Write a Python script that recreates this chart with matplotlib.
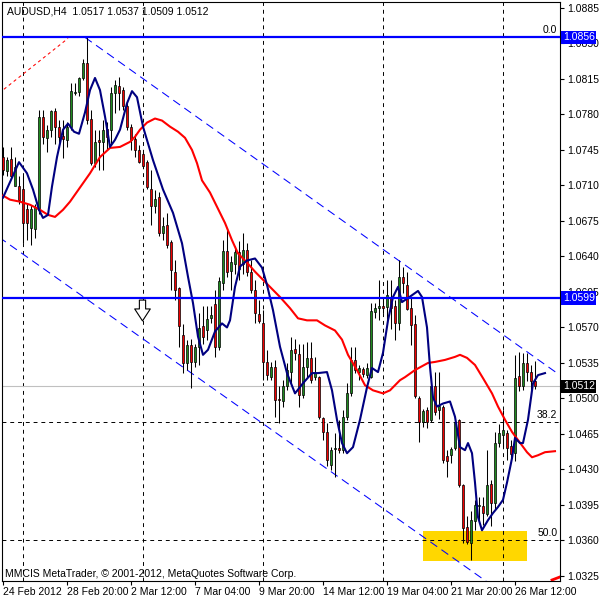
import numpy as np
import matplotlib
matplotlib.use("Agg")
import matplotlib.pyplot as plt
import matplotlib.transforms as mtransforms
from matplotlib.patches import Rectangle
from matplotlib.path import Path

# AUDUSD H4 candles, bar 0 = 24 Feb 2012
opens = [1.0738, 1.0724, 1.0736, 1.0709, 1.0709, 1.0707, 1.0687, 1.0668, 1.0667, 1.0686,
         1.0778, 1.0757, 1.0765, 1.0783, 1.0768, 1.0759, 1.0755, 1.0768, 1.0801, 1.0802,
         1.0816, 1.0831, 1.0776, 1.0732, 1.0755, 1.0753, 1.0766, 1.0765, 1.0801, 1.0808,
         1.0804, 1.0788, 1.0768, 1.0756, 1.0745, 1.0741, 1.0733, 1.0707, 1.0690, 1.0699,
         1.0663, 1.0671, 1.0654, 1.0625, 1.0609, 1.0563, 1.0535, 1.0553, 1.0536, 1.0551,
         1.0571, 1.0567, 1.0579, 1.0593, 1.0551, 1.0614, 1.0645, 1.0626, 1.0633, 1.0644,
         1.0633, 1.0646, 1.0625, 1.0607, 1.0583, 1.0574, 1.0536, 1.0521, 1.0531, 1.0499,
         1.0497, 1.0512, 1.0526, 1.0549, 1.0544, 1.0503, 1.0531, 1.0540, 1.0521, 1.0521,
         1.0481, 1.0467, 1.0434, 1.0450, 1.0451, 1.0449, 1.0482, 1.0505, 1.0538, 1.0526,
         1.0529, 1.0523, 1.0521, 1.0585, 1.0589, 1.0591, 1.0590, 1.0600, 1.0591, 1.0574,
         1.0620, 1.0612, 1.0589, 1.0573, 1.0500, 1.0477, 1.0489, 1.0479, 1.0512, 1.0489,
         1.0492, 1.0443, 1.0444, 1.0451, 1.0479, 1.0415, 1.0373, 1.0357, 1.0379, 1.0394,
         1.0394, 1.0386, 1.0416, 1.0397, 1.0456, 1.0464, 1.0466, 1.0453, 1.0446, 1.0522,
         1.0512, 1.0535, 1.0526, 1.0517]
highs = [1.0748, 1.0738, 1.0748, 1.0738, 1.0719, 1.0719, 1.0692, 1.0691, 1.0692, 1.0784,
         1.0784, 1.0770, 1.0784, 1.0786, 1.0775, 1.0775, 1.0773, 1.0811, 1.0811, 1.0817,
         1.0835, 1.0856, 1.0784, 1.0765, 1.0765, 1.0775, 1.0773, 1.0807, 1.0814, 1.0817,
         1.0807, 1.0791, 1.0771, 1.0761, 1.0750, 1.0743, 1.0735, 1.0725, 1.0706, 1.0704,
         1.0679, 1.0683, 1.0656, 1.0637, 1.0610, 1.0573, 1.0558, 1.0559, 1.0554, 1.0584,
         1.0591, 1.0591, 1.0591, 1.0607, 1.0620, 1.0656, 1.0668, 1.0640, 1.0650, 1.0655,
         1.0663, 1.0653, 1.0637, 1.0617, 1.0597, 1.0587, 1.0548, 1.0536, 1.0538, 1.0512,
         1.0518, 1.0535, 1.0561, 1.0559, 1.0554, 1.0554, 1.0556, 1.0556, 1.0541, 1.0522,
         1.0482, 1.0476, 1.0452, 1.0466, 1.0479, 1.0489, 1.0515, 1.0551, 1.0551, 1.0533,
         1.0531, 1.0535, 1.0594, 1.0594, 1.0617, 1.0600, 1.0617, 1.0617, 1.0597, 1.0637,
         1.0630, 1.0625, 1.0600, 1.0582, 1.0502, 1.0490, 1.0492, 1.0522, 1.0526, 1.0526,
         1.0494, 1.0449, 1.0452, 1.0480, 1.0480, 1.0416, 1.0384, 1.0389, 1.0400, 1.0403,
         1.0403, 1.0449, 1.0420, 1.0467, 1.0475, 1.0489, 1.0469, 1.0459, 1.0543, 1.0546,
         1.0545, 1.0545, 1.0533, 1.0537]
lows = [1.0720, 1.0719, 1.0717, 1.0709, 1.0692, 1.0653, 1.0656, 1.0651, 1.0658, 1.0682,
        1.0751, 1.0743, 1.0758, 1.0751, 1.0748, 1.0737, 1.0748, 1.0765, 1.0799, 1.0798,
        1.0814, 1.0771, 1.0730, 1.0728, 1.0725, 1.0725, 1.0745, 1.0750, 1.0781, 1.0784,
        1.0784, 1.0765, 1.0745, 1.0738, 1.0732, 1.0727, 1.0707, 1.0671, 1.0683, 1.0660,
        1.0656, 1.0648, 1.0607, 1.0597, 1.0551, 1.0525, 1.0528, 1.0510, 1.0531, 1.0533,
        1.0554, 1.0558, 1.0574, 1.0541, 1.0548, 1.0607, 1.0620, 1.0607, 1.0623, 1.0617,
        1.0623, 1.0621, 1.0604, 1.0574, 1.0574, 1.0518, 1.0518, 1.0518, 1.0482, 1.0476,
        1.0492, 1.0508, 1.0515, 1.0538, 1.0492, 1.0500, 1.0521, 1.0515, 1.0518, 1.0480,
        1.0459, 1.0433, 1.0429, 1.0423, 1.0446, 1.0446, 1.0479, 1.0502, 1.0525, 1.0518,
        1.0521, 1.0520, 1.0520, 1.0579, 1.0577, 1.0584, 1.0577, 1.0568, 1.0558, 1.0567,
        1.0604, 1.0587, 1.0553, 1.0500, 1.0457, 1.0472, 1.0471, 1.0477, 1.0484, 1.0480,
        1.0436, 1.0423, 1.0436, 1.0449, 1.0413, 1.0357, 1.0356, 1.0341, 1.0370, 1.0380,
        1.0375, 1.0384, 1.0374, 1.0390, 1.0452, 1.0452, 1.0439, 1.0439, 1.0438, 1.0507,
        1.0508, 1.0517, 1.0503, 1.0509]
closes = [1.0725, 1.0735, 1.0719, 1.0728, 1.0696, 1.0673, 1.0673, 1.0687, 1.0689, 1.0778,
          1.0758, 1.0765, 1.0783, 1.0768, 1.0758, 1.0756, 1.0768, 1.0803, 1.0802, 1.0816,
          1.0831, 1.0775, 1.0732, 1.0753, 1.0753, 1.0765, 1.0758, 1.0801, 1.0809, 1.0801,
          1.0788, 1.0768, 1.0755, 1.0745, 1.0733, 1.0729, 1.0708, 1.0690, 1.0697, 1.0663,
          1.0670, 1.0651, 1.0627, 1.0607, 1.0571, 1.0535, 1.0553, 1.0536, 1.0551, 1.0569,
          1.0561, 1.0578, 1.0582, 1.0551, 1.0616, 1.0645, 1.0625, 1.0635, 1.0644, 1.0628,
          1.0646, 1.0625, 1.0607, 1.0584, 1.0576, 1.0536, 1.0523, 1.0531, 1.0498, 1.0498,
          1.0512, 1.0528, 1.0548, 1.0545, 1.0503, 1.0531, 1.0540, 1.0518, 1.0525, 1.0482,
          1.0467, 1.0439, 1.0449, 1.0451, 1.0449, 1.0482, 1.0505, 1.0538, 1.0528, 1.0530,
          1.0524, 1.0530, 1.0586, 1.0589, 1.0591, 1.0589, 1.0602, 1.0589, 1.0574, 1.0620,
          1.0614, 1.0588, 1.0572, 1.0502, 1.0477, 1.0488, 1.0477, 1.0512, 1.0487, 1.0493,
          1.0439, 1.0438, 1.0450, 1.0477, 1.0415, 1.0372, 1.0358, 1.0380, 1.0395, 1.0395,
          1.0387, 1.0415, 1.0397, 1.0456, 1.0466, 1.0469, 1.0451, 1.0445, 1.0520, 1.0512,
          1.0535, 1.0526, 1.0517, 1.0512]

# moving averages (bar index, price)
fast_ma_x = [0, 4, 6, 7.5, 9, 10, 11.25, 12.25, 13.5, 15, 16.25, 17.75, 19, 20.5, 21.75, 23,
             24.25, 25.5, 26.75, 28, 29.25, 31, 32.25, 33.5, 35, 37.5, 40, 42.5, 44.75, 46.25,
             47.5, 48.75, 50, 51.25, 53, 54.75, 56, 56.75, 58, 59.25, 61, 63, 64.75, 66, 67.5,
             69.25, 71, 73, 75, 77.25, 78.75, 81, 82.25, 83.5, 84.75, 86, 87.5, 89.25, 91,
             92.25, 93.75, 95, 96.25, 97.5, 98.75, 99.75, 101.25, 103.75, 104.75, 106, 106.75,
             107.5, 108.5, 110, 111.75, 113, 114.25, 115.5, 116.25, 117.25, 118, 118.75, 119.75,
             121.25, 122.5, 123.75, 125, 126, 127.25, 128, 129.25, 130, 131.25, 132.5, 133.75,
             135.5]
fast_ma_y = [1.0698, 1.0733, 1.0722, 1.0706, 1.0686, 1.0678, 1.0681, 1.0709, 1.0738, 1.0765,
             1.0771, 1.0763, 1.0761, 1.0782, 1.0804, 1.0816, 1.0804, 1.0778, 1.0748, 1.0755,
             1.0765, 1.0791, 1.0803, 1.0797, 1.0768, 1.0735, 1.0706, 1.0683, 1.0653, 1.0620,
             1.0594, 1.0561, 1.0543, 1.0548, 1.0566, 1.0574, 1.0570, 1.0577, 1.0610, 1.0630,
             1.0636, 1.0638, 1.0629, 1.0612, 1.0587, 1.0551, 1.0525, 1.0505, 1.0515, 1.0525,
             1.0525, 1.0526, 1.0508, 1.0479, 1.0456, 1.0446, 1.0452, 1.0479, 1.0511, 1.0530,
             1.0526, 1.0545, 1.0577, 1.0600, 1.0610, 1.0595, 1.0599, 1.0606, 1.0600, 1.0570,
             1.0531, 1.0501, 1.0492, 1.0495, 1.0497, 1.0482, 1.0452, 1.0449, 1.0456, 1.0446,
             1.0417, 1.0383, 1.0370, 1.0380, 1.0387, 1.0393, 1.0400, 1.0417, 1.0441, 1.0461,
             1.0456, 1.0456, 1.0479, 1.0515, 1.0523, 1.0525]
slow_ma_x = [0, 1.75, 4.25, 6.75, 9.25, 11.25, 13, 15, 16.75, 19.25, 21.75, 24.25, 26.75,
             29.25, 31.75, 33, 34.25, 36, 38, 39.75, 41.75, 43.75, 45.5, 47.25, 48.5, 49.75,
             51.75, 53.5, 55.5, 57.25, 58.75, 61, 63, 65, 66.75, 69.25, 71.75, 73.75, 76,
             78.5, 80.5, 83, 84.75, 86.25, 88.5, 90.5, 92.5, 95, 96.75, 99.25, 100.5, 103,
             106.25, 108, 110.5, 113, 114.25, 116, 118, 120, 122.25, 123.75, 125.5, 127.25,
             128.75, 131, 132.25, 133.75, 135.5, 138]
slow_ma_y = [1.0700, 1.0696, 1.0694, 1.0691, 1.0686, 1.0681, 1.0679, 1.0686, 1.0694, 1.0708,
             1.0722, 1.0738, 1.0747, 1.0748, 1.0753, 1.0758, 1.0765, 1.0772, 1.0776, 1.0774,
             1.0768, 1.0763, 1.0757, 1.0745, 1.0732, 1.0715, 1.0703, 1.0689, 1.0673, 1.0656,
             1.0643, 1.0634, 1.0625, 1.0617, 1.0610, 1.0600, 1.0589, 1.0579, 1.0577, 1.0577,
             1.0572, 1.0567, 1.0558, 1.0543, 1.0528, 1.0513, 1.0508, 1.0505, 1.0508, 1.0518,
             1.0521, 1.0528, 1.0535, 1.0536, 1.0538, 1.0541, 1.0543, 1.0540, 1.0533, 1.0520,
             1.0505, 1.0492, 1.0479, 1.0467, 1.0459, 1.0447, 1.0442, 1.0444, 1.0447, 1.0448]

# objects drawn on the chart
hlines = [1.0856, 1.0599]
fib_levels = [1.0856, 1.04770, 1.0360]
fib_names = ["0.0", "38.2", "50.0"]
channel_top = [(20.5, 1.0856), (138.5, 1.0525)]
channel_bottom = [(-1, 1.0659), (125, 1.0308)]
fib_diag = [(-1, 1.0801), (16.25, 1.0855)]
box_bars = (105, 131)
box_prices = (1.0340, 1.0369)
bid = 1.0512
arrow_at = (34.75, 1.0587)
grid_bars = [5, 35, 65, 95, 125]
time_pos = [0, 16, 32, 48, 64, 80, 96, 112, 128]
time_labels = ["24 Feb 2012", "28 Feb 20:00", "2 Mar 12:00", "7 Mar 04:00", "9 Mar 20:00",
               "14 Mar 12:00", "19 Mar 04:00", "21 Mar 20:00", "26 Mar 12:00"]
price_ticks = [1.0325, 1.0360, 1.0395, 1.0430, 1.0465, 1.0500, 1.0535, 1.0570, 1.0605,
               1.0640, 1.0675, 1.0710, 1.0745, 1.0780, 1.0815, 1.0850, 1.0885]

plt.rcParams['font.family'] = ['Liberation Sans', 'DejaVu Sans']
fs = 7.5

fig = plt.figure(figsize=(6, 6), dpi=100)
ax = fig.add_axes([2 / 600, 19 / 600, 558 / 600, 579 / 600])
ax.set_xlim(-0.25, 139.25)
ax.set_ylim(1.0320, 1.08909)

o = np.array(opens); h = np.array(highs); l = np.array(lows); c = np.array(closes)
idx = np.arange(len(o))
up = c >= o

ax.add_patch(Rectangle((box_bars[0], box_prices[0]), box_bars[1] - box_bars[0],
                       box_prices[1] - box_prices[0], facecolor="#ffd700", edgecolor="none", zorder=0.5))

for gb in grid_bars:
    ax.axvline(gb, color="black", lw=0.7, ls=(0, (4, 4)), zorder=1)
for lv in fib_levels[1:]:
    ax.axhline(lv, color="black", lw=0.7, ls=(0, (4, 4)), zorder=1)
for lv, nm in zip(fib_levels, fib_names):
    ax.text(138.6, lv + 0.0002, nm, ha="right", va="bottom", fontsize=fs, zorder=6)
ax.axhline(bid, color="#c0c0c0", lw=0.8, zorder=1)

ax.plot(*zip(*channel_top), color="#0000ff", lw=0.75, ls=(0, (8, 5)), zorder=2)
ax.plot(*zip(*channel_bottom), color="#0000ff", lw=0.75, ls=(0, (8, 5)), zorder=2)
ax.plot(*zip(*fib_diag), color="#ff0000", lw=0.75, ls=(0, (3, 3)), zorder=2)
ax.plot([137.25, 139.25], [1.0321, 1.0324], color="#ff0000", lw=2, zorder=2)

ax.vlines(idx, l, h, color="black", lw=0.75, zorder=3)
ax.bar(idx, np.abs(c - o), bottom=np.minimum(o, c), width=0.62,
       color=np.where(up, "#1f8a1f", "#f00000"), edgecolor="black", linewidth=0.5, zorder=3.5)

ax.plot(slow_ma_x, slow_ma_y, color="#ff0000", lw=1.5, zorder=4)
ax.plot(fast_ma_x, fast_ma_y, color="#000080", lw=1.5, zorder=4.2)

for lv in hlines:
    ax.axhline(lv, color="#0000ff", lw=1.6, zorder=5)

# hollow down arrow (sell signal)
arrow = Path([(-0.3, 1), (0.3, 1), (0.3, 0.15), (0.75, 0.15), (0, -1),
              (-0.75, 0.15), (-0.3, 0.15), (-0.3, 1)], closed=True)
ax.plot(*arrow_at, marker=arrow, markersize=15, markerfacecolor="white",
        markeredgecolor="black", markeredgewidth=0.8, zorder=6)

ax.text(0.009, 0.984, "AUDUSD,H4  1.0517 1.0537 1.0509 1.0512", transform=ax.transAxes,
        ha="left", va="center", fontsize=fs, zorder=6)
ax.text(0.005, 0.012, "MMCIS MetaTrader, \u00a9 2001-2012, MetaQuotes Software Corp.",
        transform=ax.transAxes, ha="left", va="center", fontsize=fs, zorder=6)

ax.yaxis.tick_right()
ax.set_yticks(price_ticks)
ax.set_yticklabels([f"{p:.4f}" for p in price_ticks])
ax.set_xticks(time_pos)
ax.set_xticklabels(time_labels)
for t in ax.get_xticklabels():
    t.set_horizontalalignment("left")
ax.tick_params(axis="both", length=3, width=0.8, labelsize=fs, pad=2)
ax.tick_params(axis="x", pad=1)

trans = mtransforms.blended_transform_factory(ax.transAxes, ax.transData)
for lv, fc in [(1.0856, "#0000ff"), (1.0599, "#0000ff"), (bid, "black")]:
    ax.text(1.005, lv, f"{lv:.4f}", transform=trans, ha="left", va="center", fontsize=fs,
            color="white", zorder=7, clip_on=False,
            bbox=dict(boxstyle="square,pad=0.15", facecolor=fc, edgecolor="none"))

for s in ax.spines.values():
    s.set_linewidth(0.8)

fig.savefig("out.png", dpi=100)
